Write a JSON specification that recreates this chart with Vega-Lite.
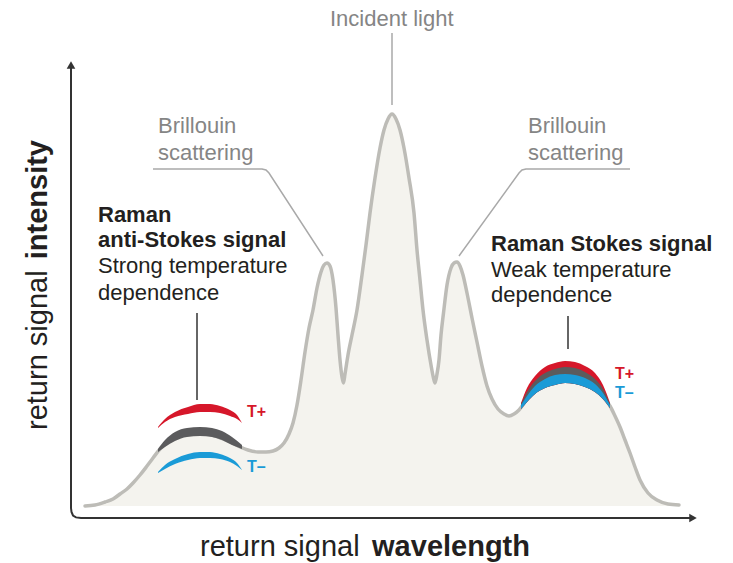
{
  "$schema": "https://vega.github.io/schema/vega-lite/v6.json",
  "width": 733,
  "height": 563,
  "autosize": {"type": "fit", "contains": "padding"},
  "padding": 0,
  "background": "white",
  "config": {"view": {"stroke": null}, "text": {"font": "Liberation Sans"}},
  "datasets": {
    "curve": [
      {"x": 14, "y": 12}, {"x": 24, "y": 13}, {"x": 34, "y": 16}, {"x": 42, "y": 19}, {"x": 49, "y": 24},
      {"x": 56, "y": 29}, {"x": 62, "y": 35}, {"x": 69, "y": 43}, {"x": 76, "y": 52}, {"x": 82, "y": 60},
      {"x": 89, "y": 69}, {"x": 97, "y": 76}, {"x": 106, "y": 81}, {"x": 116, "y": 84}, {"x": 126, "y": 85},
      {"x": 137, "y": 84}, {"x": 147, "y": 81}, {"x": 157, "y": 77}, {"x": 167, "y": 72}, {"x": 177, "y": 68},
      {"x": 187, "y": 66}, {"x": 195, "y": 66}, {"x": 202, "y": 67}, {"x": 208, "y": 70}, {"x": 213, "y": 75},
      {"x": 218, "y": 84}, {"x": 222, "y": 95}, {"x": 226, "y": 113}, {"x": 230, "y": 138}, {"x": 234, "y": 166},
      {"x": 238, "y": 190}, {"x": 242, "y": 208}, {"x": 246, "y": 230}, {"x": 250, "y": 246}, {"x": 253, "y": 253},
      {"x": 256, "y": 255}, {"x": 259, "y": 252}, {"x": 262, "y": 238}, {"x": 265, "y": 210}, {"x": 267, "y": 183},
      {"x": 269, "y": 158}, {"x": 271, "y": 141}, {"x": 272.5, "y": 135}, {"x": 274, "y": 144}, {"x": 277, "y": 163},
      {"x": 281, "y": 183}, {"x": 286, "y": 208}, {"x": 291, "y": 243}, {"x": 295, "y": 273}, {"x": 299, "y": 305},
      {"x": 304, "y": 340}, {"x": 309, "y": 370}, {"x": 313, "y": 388}, {"x": 317, "y": 399}, {"x": 321, "y": 404},
      {"x": 325, "y": 399}, {"x": 329, "y": 388}, {"x": 333, "y": 370}, {"x": 338, "y": 340}, {"x": 343, "y": 305},
      {"x": 346, "y": 268}, {"x": 349, "y": 238}, {"x": 352, "y": 208}, {"x": 356, "y": 178}, {"x": 360, "y": 153},
      {"x": 362.5, "y": 140}, {"x": 364, "y": 135}, {"x": 366, "y": 144}, {"x": 368, "y": 158}, {"x": 370, "y": 183},
      {"x": 372.5, "y": 205}, {"x": 376, "y": 233}, {"x": 380, "y": 250}, {"x": 383, "y": 255}, {"x": 386, "y": 256},
      {"x": 389, "y": 252}, {"x": 392, "y": 243}, {"x": 396, "y": 225}, {"x": 401, "y": 200}, {"x": 406, "y": 176},
      {"x": 411, "y": 152}, {"x": 416, "y": 132}, {"x": 421, "y": 119}, {"x": 427, "y": 109}, {"x": 433, "y": 104},
      {"x": 438, "y": 102}, {"x": 443, "y": 104}, {"x": 448, "y": 108}, {"x": 454, "y": 116}, {"x": 459, "y": 122},
      {"x": 466, "y": 128}, {"x": 474, "y": 132}, {"x": 484, "y": 135}, {"x": 494, "y": 137}, {"x": 504, "y": 136},
      {"x": 514, "y": 133}, {"x": 524, "y": 128}, {"x": 532, "y": 121}, {"x": 539, "y": 112}, {"x": 544, "y": 102},
      {"x": 549, "y": 91}, {"x": 554, "y": 78}, {"x": 559, "y": 65}, {"x": 564, "y": 51}, {"x": 569, "y": 38},
      {"x": 577, "y": 25}, {"x": 586, "y": 18}, {"x": 597, "y": 14}, {"x": 608, "y": 13}
    ],
    "bands": [
      {"side": "R", "tone": "T+", "x": 450, "y": 115, "y2": 109}, {"side": "R", "tone": "T+", "x": 456, "y": 130, "y2": 116},
      {"side": "R", "tone": "T+", "x": 464, "y": 142, "y2": 124}, {"side": "R", "tone": "T+", "x": 474, "y": 151, "y2": 130},
      {"side": "R", "tone": "T+", "x": 484, "y": 155, "y2": 133}, {"side": "R", "tone": "T+", "x": 494, "y": 157, "y2": 135},
      {"side": "R", "tone": "T+", "x": 504, "y": 156, "y2": 134}, {"side": "R", "tone": "T+", "x": 514, "y": 152, "y2": 131},
      {"side": "R", "tone": "T+", "x": 524, "y": 145, "y2": 126}, {"side": "R", "tone": "T+", "x": 532, "y": 133, "y2": 119},
      {"side": "R", "tone": "T+", "x": 539, "y": 115, "y2": 110},
      {"side": "R", "tone": "T0", "x": 450, "y": 114, "y2": 109}, {"side": "R", "tone": "T0", "x": 456, "y": 126, "y2": 116},
      {"side": "R", "tone": "T0", "x": 464, "y": 137, "y2": 124}, {"side": "R", "tone": "T0", "x": 474, "y": 145, "y2": 130},
      {"side": "R", "tone": "T0", "x": 484, "y": 149, "y2": 133}, {"side": "R", "tone": "T0", "x": 494, "y": 151, "y2": 135},
      {"side": "R", "tone": "T0", "x": 504, "y": 150, "y2": 134}, {"side": "R", "tone": "T0", "x": 514, "y": 146, "y2": 131},
      {"side": "R", "tone": "T0", "x": 524, "y": 139, "y2": 126}, {"side": "R", "tone": "T0", "x": 532, "y": 129, "y2": 119},
      {"side": "R", "tone": "T0", "x": 539, "y": 114, "y2": 110},
      {"side": "R", "tone": "T-", "x": 450, "y": 113, "y2": 109}, {"side": "R", "tone": "T-", "x": 456, "y": 122, "y2": 116},
      {"side": "R", "tone": "T-", "x": 464, "y": 132, "y2": 124}, {"side": "R", "tone": "T-", "x": 474, "y": 139, "y2": 130},
      {"side": "R", "tone": "T-", "x": 484, "y": 143, "y2": 133}, {"side": "R", "tone": "T-", "x": 494, "y": 144, "y2": 135},
      {"side": "R", "tone": "T-", "x": 504, "y": 143, "y2": 134}, {"side": "R", "tone": "T-", "x": 514, "y": 140, "y2": 131},
      {"side": "R", "tone": "T-", "x": 524, "y": 134, "y2": 126}, {"side": "R", "tone": "T-", "x": 532, "y": 125, "y2": 119},
      {"side": "R", "tone": "T-", "x": 539, "y": 113, "y2": 110},
      {"side": "L", "tone": "T0", "x": 87, "y": 69, "y2": 66}, {"side": "L", "tone": "T0", "x": 94, "y": 78, "y2": 71},
      {"side": "L", "tone": "T0", "x": 104, "y": 86, "y2": 77}, {"side": "L", "tone": "T0", "x": 116, "y": 90, "y2": 81},
      {"side": "L", "tone": "T0", "x": 129, "y": 91, "y2": 82}, {"side": "L", "tone": "T0", "x": 141, "y": 90, "y2": 81},
      {"side": "L", "tone": "T0", "x": 151, "y": 87, "y2": 78}, {"side": "L", "tone": "T0", "x": 161, "y": 81, "y2": 73},
      {"side": "L", "tone": "T0", "x": 171, "y": 73, "y2": 69},
      {"side": "L", "tone": "T+", "x": 87, "y": 91, "y2": 90}, {"side": "L", "tone": "T+", "x": 94, "y": 99, "y2": 96},
      {"side": "L", "tone": "T+", "x": 104, "y": 106, "y2": 101}, {"side": "L", "tone": "T+", "x": 117, "y": 111, "y2": 104},
      {"side": "L", "tone": "T+", "x": 129, "y": 114, "y2": 106}, {"side": "L", "tone": "T+", "x": 139, "y": 114, "y2": 106},
      {"side": "L", "tone": "T+", "x": 149, "y": 112, "y2": 105}, {"side": "L", "tone": "T+", "x": 159, "y": 108, "y2": 102},
      {"side": "L", "tone": "T+", "x": 166, "y": 103, "y2": 99}, {"side": "L", "tone": "T+", "x": 171, "y": 95, "y2": 95},
      {"side": "L", "tone": "T-", "x": 87, "y": 46, "y2": 45}, {"side": "L", "tone": "T-", "x": 94, "y": 53, "y2": 49},
      {"side": "L", "tone": "T-", "x": 104, "y": 59, "y2": 54}, {"side": "L", "tone": "T-", "x": 117, "y": 64, "y2": 58},
      {"side": "L", "tone": "T-", "x": 129, "y": 66, "y2": 60}, {"side": "L", "tone": "T-", "x": 139, "y": 66, "y2": 60},
      {"side": "L", "tone": "T-", "x": 149, "y": 64, "y2": 59}, {"side": "L", "tone": "T-", "x": 159, "y": 60, "y2": 56},
      {"side": "L", "tone": "T-", "x": 166, "y": 55, "y2": 52}, {"side": "L", "tone": "T-", "x": 171, "y": 48, "y2": 48}
    ],
    "leaders": [
      {"kind": "note", "g": "incident", "x": 321, "y": 485}, {"kind": "note", "g": "incident", "x": 321, "y": 413},
      {"kind": "note", "g": "bl", "x": 82, "y": 349}, {"kind": "note", "g": "bl", "x": 191, "y": 349},
      {"kind": "note", "g": "bl", "x": 195, "y": 348}, {"kind": "note", "g": "bl", "x": 198, "y": 345},
      {"kind": "note", "g": "bl", "x": 252, "y": 262},
      {"kind": "note", "g": "br", "x": 559, "y": 349}, {"kind": "note", "g": "br", "x": 455, "y": 349},
      {"kind": "note", "g": "br", "x": 451, "y": 348}, {"kind": "note", "g": "br", "x": 448, "y": 345},
      {"kind": "note", "g": "br", "x": 388, "y": 262},
      {"kind": "raman", "g": "rl", "x": 126, "y": 205}, {"kind": "raman", "g": "rl", "x": 126, "y": 118},
      {"kind": "raman", "g": "rr", "x": 497, "y": 202}, {"kind": "raman", "g": "rr", "x": 497, "y": 169}
    ],
    "axis": [
      {"x": 0, "y": 452}, {"x": 0, "y": 10}, {"x": 0.5, "y": 6}, {"x": 2, "y": 2.5}, {"x": 5, "y": 0.6},
      {"x": 10, "y": 0}, {"x": 620, "y": 0}
    ],
    "arrows": [
      {"dir": "up", "x": 0, "y": 453},
      {"dir": "right", "x": 622, "y": 0}
    ],
    "labels": [
      {"kind": "note", "x": 259, "y": 492, "text": "Incident light"},
      {"kind": "note", "x": 87, "y": 385, "text": "Brillouin"},
      {"kind": "note", "x": 87, "y": 358, "text": "scattering"},
      {"kind": "note", "x": 457, "y": 385, "text": "Brillouin"},
      {"kind": "note", "x": 457, "y": 358, "text": "scattering"},
      {"kind": "heading", "x": 27, "y": 296, "text": "Raman"},
      {"kind": "heading", "x": 27, "y": 271, "text": "anti-Stokes signal"},
      {"kind": "heading", "x": 420, "y": 267, "text": "Raman Stokes signal"},
      {"kind": "desc", "x": 27, "y": 245, "text": "Strong temperature"},
      {"kind": "desc", "x": 27, "y": 218, "text": "dependence"},
      {"kind": "desc", "x": 420, "y": 241, "text": "Weak temperature"},
      {"kind": "desc", "x": 420, "y": 216, "text": "dependence"},
      {"kind": "hot", "x": 176, "y": 106, "text": "T+"},
      {"kind": "hot", "x": 544, "y": 144, "text": "T+"},
      {"kind": "cold", "x": 176, "y": 51, "text": "T–"},
      {"kind": "cold", "x": 544, "y": 125, "text": "T–"},
      {"kind": "axis-x", "x": 129, "y": -38, "text": "return signal"},
      {"kind": "axis-x-em", "x": 459, "y": -38, "text": "wavelength"},
      {"kind": "axis-y", "x": -24, "y": 88, "text": "return signal"},
      {"kind": "axis-y-em", "x": -24, "y": 378, "text": "intensity"}
    ]
  },
  "encoding": {
    "x": {"field": "x", "type": "quantitative", "scale": {"domain": [-71, 662], "nice": false, "zero": false}, "axis": null},
    "y": {"field": "y", "type": "quantitative", "scale": {"domain": [-45, 518], "nice": false, "zero": false}, "axis": null}
  },
  "layer": [
    {
      "data": {"name": "curve"},
      "mark": {"type": "area", "color": "#f4f3ee", "interpolate": "monotone"},
      "encoding": {"y2": {"datum": 12}}
    },
    {
      "data": {"name": "curve"},
      "mark": {"type": "line", "color": "#bdbcb7", "strokeWidth": 3.5, "interpolate": "monotone", "strokeCap": "round", "strokeJoin": "round"},
      "encoding": {}
    },
    {
      "data": {"name": "leaders"},
      "transform": [{"filter": "datum.kind === 'note'"}],
      "mark": {"type": "line", "color": "#a9a9a9", "strokeWidth": 1.5},
      "encoding": {"detail": {"field": "g"}, "order": {"value": null}}
    },
    {
      "data": {"name": "leaders"},
      "transform": [{"filter": "datum.kind === 'raman'"}],
      "mark": {"type": "line", "color": "#333333", "strokeWidth": 1.5},
      "encoding": {"detail": {"field": "g"}, "order": {"value": null}}
    },
    {
      "data": {"name": "bands"},
      "transform": [{"filter": "datum.tone === 'T+'"}],
      "mark": {"type": "area", "color": "#d6172a", "interpolate": "monotone"},
      "encoding": {"y2": {"field": "y2"}, "detail": {"field": "side"}}
    },
    {
      "data": {"name": "bands"},
      "transform": [{"filter": "datum.tone === 'T0'"}],
      "mark": {"type": "area", "color": "#5b5b5d", "interpolate": "monotone"},
      "encoding": {"y2": {"field": "y2"}, "detail": {"field": "side"}}
    },
    {
      "data": {"name": "bands"},
      "transform": [{"filter": "datum.tone === 'T-'"}],
      "mark": {"type": "area", "color": "#1a9bd7", "interpolate": "monotone"},
      "encoding": {"y2": {"field": "y2"}, "detail": {"field": "side"}}
    },
    {
      "data": {"name": "axis"},
      "mark": {"type": "line", "color": "#333333", "strokeWidth": 2},
      "encoding": {"order": {"value": null}}
    },
    {
      "data": {"name": "arrows"},
      "mark": {"type": "point", "filled": true, "color": "#333333", "opacity": 1, "size": 75},
      "encoding": {
        "shape": {"field": "dir", "type": "nominal", "scale": {"domain": ["up", "right"], "range": ["triangle-up", "triangle-right"]}, "legend": null}
      }
    },
    {
      "data": {"name": "labels"},
      "transform": [{"filter": "datum.kind === 'note'"}],
      "mark": {"type": "text", "font": "Liberation Sans", "fontSize": 22, "color": "#858585", "align": "left", "baseline": "alphabetic"},
      "encoding": {"text": {"field": "text"}}
    },
    {
      "data": {"name": "labels"},
      "transform": [{"filter": "datum.kind === 'heading'"}],
      "mark": {"type": "text", "font": "Liberation Sans", "fontSize": 22, "fontWeight": "bold", "color": "#231f20", "align": "left", "baseline": "alphabetic"},
      "encoding": {"text": {"field": "text"}}
    },
    {
      "data": {"name": "labels"},
      "transform": [{"filter": "datum.kind === 'desc'"}],
      "mark": {"type": "text", "font": "Liberation Sans", "fontSize": 22, "color": "#231f20", "align": "left", "baseline": "alphabetic"},
      "encoding": {"text": {"field": "text"}}
    },
    {
      "data": {"name": "labels"},
      "transform": [{"filter": "datum.kind === 'hot'"}],
      "mark": {"type": "text", "font": "Liberation Sans", "fontSize": 16, "fontWeight": "bold", "color": "#d6172a", "align": "left", "baseline": "middle"},
      "encoding": {"text": {"field": "text"}}
    },
    {
      "data": {"name": "labels"},
      "transform": [{"filter": "datum.kind === 'cold'"}],
      "mark": {"type": "text", "font": "Liberation Sans", "fontSize": 16, "fontWeight": "bold", "color": "#1a9bd7", "align": "left", "baseline": "middle"},
      "encoding": {"text": {"field": "text"}}
    },
    {
      "data": {"name": "labels"},
      "transform": [{"filter": "datum.kind === 'axis-x'"}],
      "mark": {"type": "text", "font": "Liberation Sans", "fontSize": 29, "color": "#231f20", "align": "left", "baseline": "alphabetic"},
      "encoding": {"text": {"field": "text"}}
    },
    {
      "data": {"name": "labels"},
      "transform": [{"filter": "datum.kind === 'axis-x-em'"}],
      "mark": {"type": "text", "font": "Liberation Sans", "fontSize": 29, "fontWeight": "bold", "color": "#231f20", "align": "right", "baseline": "alphabetic"},
      "encoding": {"text": {"field": "text"}}
    },
    {
      "data": {"name": "labels"},
      "transform": [{"filter": "datum.kind === 'axis-y'"}],
      "mark": {"type": "text", "font": "Liberation Sans", "fontSize": 29, "color": "#231f20", "align": "left", "baseline": "alphabetic", "angle": 270},
      "encoding": {"text": {"field": "text"}}
    },
    {
      "data": {"name": "labels"},
      "transform": [{"filter": "datum.kind === 'axis-y-em'"}],
      "mark": {"type": "text", "font": "Liberation Sans", "fontSize": 29, "fontWeight": "bold", "color": "#231f20", "align": "right", "baseline": "alphabetic", "angle": 270},
      "encoding": {"text": {"field": "text"}}
    }
  ]
}
